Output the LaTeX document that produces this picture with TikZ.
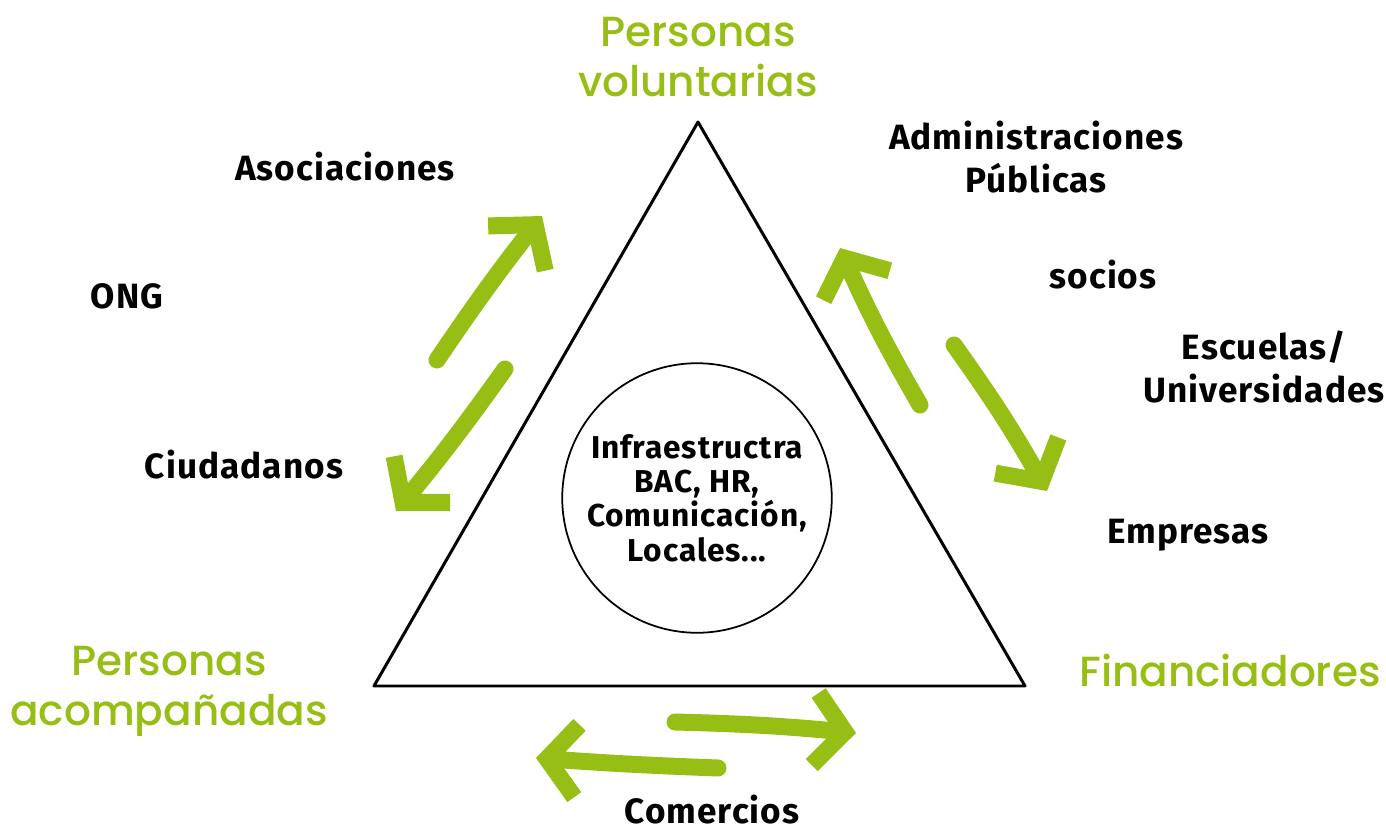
\documentclass[tikz,border=0pt]{standalone}
\usepackage{fontspec}
\setmainfont{Poppins}
\newfontfamily\rolefont{Poppins}[UprightFont={* Medium}]
\newfontfamily\handfont{Fira Sans}[LetterSpace=3]
\usetikzlibrary{arrows.meta}
\definecolor{leaf}{RGB}{150,190,20}

\begin{document}
\begin{tikzpicture}[line cap=round,line join=round,x=0.02cm,y=-0.02cm,
  role/.style={text=leaf,font=\rolefont\fontsize{24}{28.5}\selectfont,align=center},
  actor/.style={font=\handfont\bfseries\fontsize{20}{24.5}\selectfont,align=center},
  flow/.style={draw=leaf,line width=0.34cm,-{Straight Barb[length=0.6cm,width=1.45cm]}}]
\useasboundingbox (0,0) rectangle (1386,831);
\draw [line width=1.7pt] (698,122)-- (1025,686)-- (374,686)-- cycle;
\node [draw,circle,line width=1pt,minimum size=5.08cm,
  font=\handfont\bfseries\fontsize{18}{19.5}\selectfont,align=center] (core) at (697,498)
  {Infraestructra\\BAC, HR,\\Comunicación,\\Locales...};
\node [role] (vol) at (698,57) {Personas\\voluntarias};
\node [role] (acomp) at (169,691) {Personas\\acompañadas};
\node [role] (fin) at (1230,670) {Financiadores};
\node [actor] (asoc) at (345,167) {Asociaciones};
\node [actor] (ong) at (127,296) {ONG};
\node [actor] (ciud) at (244,465) {Ciudadanos};
\node [actor] (admin) at (1036,157) {Administraciones\\Públicas};
\node [actor] (socios) at (1103,275) {socios};
\node [actor] (escu) at (1264,367) {Escuelas/\\Universidades};
\node [actor] (empr) at (1188,535) {Empresas};
\node [actor] (comer) at (712,810) {Comercios};
\coordinate (a1) at (437,360);
\coordinate (b1) at (542,216);
\coordinate (a2) at (505,369);
\coordinate (b2) at (396,511);
\coordinate (a3) at (920,405);
\coordinate (b3) at (840,248);
\coordinate (a4) at (954,345);
\coordinate (b4) at (1047,491);
\coordinate (a5) at (675,722);
\coordinate (b5) at (856,733);
\coordinate (a6) at (718,768);
\coordinate (b6) at (536,758);
\draw [flow] (a1) to[bend left=2] (b1);
\draw [flow] (a2) to[bend left=2] (b2);
\draw [flow] (a3) to[bend left=3] (b3);
\draw [flow] (a4) to[bend left=3] (b4);
\draw [flow] (a5) to[bend left=2] (b5);
\draw [flow] (a6) to[bend left=1] (b6);
\end{tikzpicture}
\end{document}
